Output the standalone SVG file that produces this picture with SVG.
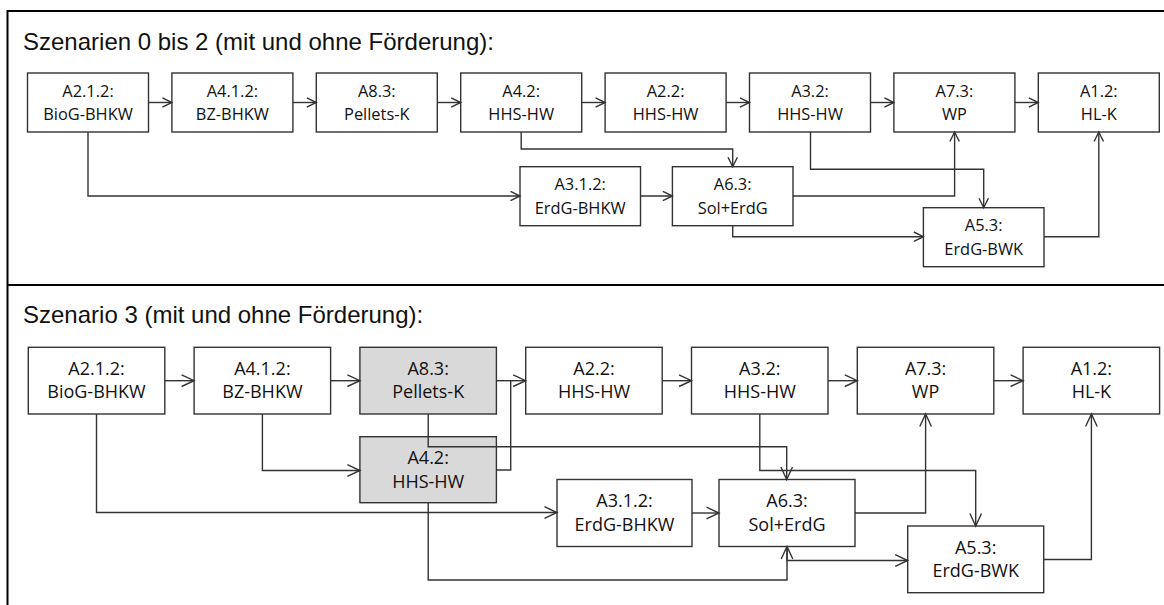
<svg xmlns="http://www.w3.org/2000/svg" width="1164" height="605" viewBox="0 0 1164 605">
  <style>
    .frame { stroke: #000; stroke-width: 2; fill: none; }
    .title { font-family: "Liberation Sans", Arial, sans-serif; font-size: 24px; fill: #111; }
    .box { fill: #fff; stroke: #333; stroke-width: 1.4; }
    .box.grey { fill: #d9d9d9; }
    .lbl { font-family: "Open Sans", "Noto Sans", sans-serif; fill: #111; text-anchor: middle; }
    .s1 .lbl { font-size: 16.4px; }
    .s2 .lbl { font-size: 18px; }
    .con { fill: none; stroke: #333; stroke-width: 1.4; }
    .s1 .con { marker-end: url(#ah1); }
    .s2 .con { marker-end: url(#ah2); }
    .s2 .con.join { marker-end: none; }
  </style>
  <defs>
    <marker id="ah1" markerUnits="userSpaceOnUse" viewBox="-11 -6 12 12" refX="0" refY="0" markerWidth="12" markerHeight="12" orient="auto" overflow="visible">
      <path d="M-9.5,-4.7 L0,0 L-9.5,4.7" fill="none" stroke="#333" stroke-width="1.4"/>
    </marker>
    <marker id="ah2" markerUnits="userSpaceOnUse" viewBox="-14 -7 15 14" refX="0" refY="0" markerWidth="15" markerHeight="14" orient="auto" overflow="visible">
      <path d="M-12.5,-5.8 L0,0 L-12.5,5.8" fill="none" stroke="#333" stroke-width="1.4"/>
    </marker>
  </defs>

  <rect width="1164" height="605" fill="#fff"/>

  <!-- outer frame and section divider -->
  <g id="frame">
    <path class="frame" d="M1164,11 H7.5 V605"/>
    <path class="frame" d="M7.5,285 H1164"/>
  </g>

  <!-- Section 1: scenarios 0 to 2 -->
  <g id="section1" class="s1">
    <text class="title" x="23" y="50">Szenarien 0 bis 2 (mit und ohne Förderung):</text>

    <g id="s1-A2.1.2"><rect class="box" x="27.5" y="73" width="121" height="59"/><text class="lbl" x="88" y="96.7">A2.1.2:</text><text class="lbl" x="88" y="120">BioG-BHKW</text></g>
    <g id="s1-A4.1.2"><rect class="box" x="171.9" y="73" width="121" height="59"/><text class="lbl" x="232.4" y="96.7">A4.1.2:</text><text class="lbl" x="232.4" y="120">BZ-BHKW</text></g>
    <g id="s1-A8.3"><rect class="box" x="316.3" y="73" width="121" height="59"/><text class="lbl" x="376.8" y="96.7">A8.3:</text><text class="lbl" x="376.8" y="120">Pellets-K</text></g>
    <g id="s1-A4.2"><rect class="box" x="460.7" y="73" width="121" height="59"/><text class="lbl" x="521.2" y="96.7">A4.2:</text><text class="lbl" x="521.2" y="120">HHS-HW</text></g>
    <g id="s1-A2.2"><rect class="box" x="605.1" y="73" width="121" height="59"/><text class="lbl" x="665.6" y="96.7">A2.2:</text><text class="lbl" x="665.6" y="120">HHS-HW</text></g>
    <g id="s1-A3.2"><rect class="box" x="749.5" y="73" width="121" height="59"/><text class="lbl" x="810" y="96.7">A3.2:</text><text class="lbl" x="810" y="120">HHS-HW</text></g>
    <g id="s1-A7.3"><rect class="box" x="893.9" y="73" width="121" height="59"/><text class="lbl" x="954.4" y="96.7">A7.3:</text><text class="lbl" x="954.4" y="120">WP</text></g>
    <g id="s1-A1.2"><rect class="box" x="1038.3" y="73" width="121" height="59"/><text class="lbl" x="1098.8" y="96.7">A1.2:</text><text class="lbl" x="1098.8" y="120">HL-K</text></g>
    <g id="s1-A3.1.2"><rect class="box" x="520" y="166.7" width="120.5" height="59"/><text class="lbl" x="580.2" y="190.4">A3.1.2:</text><text class="lbl" x="580.2" y="213.7">ErdG-BHKW</text></g>
    <g id="s1-A6.3"><rect class="box" x="672.4" y="166.7" width="120.6" height="59"/><text class="lbl" x="732.7" y="190.4">A6.3:</text><text class="lbl" x="732.7" y="213.7">Sol+ErdG</text></g>
    <g id="s1-A5.3"><rect class="box" x="923.4" y="207.7" width="120.6" height="59"/><text class="lbl" x="983.7" y="231.4">A5.3:</text><text class="lbl" x="983.7" y="254.7">ErdG-BWK</text></g>

    <g id="s1-connectors">
      <path class="con" d="M148.5,102.5 H171.9"/>
      <path class="con" d="M292.9,102.5 H316.3"/>
      <path class="con" d="M437.3,102.5 H460.7"/>
      <path class="con" d="M581.7,102.5 H605.1"/>
      <path class="con" d="M726.1,102.5 H749.5"/>
      <path class="con" d="M870.5,102.5 H893.9"/>
      <path class="con" d="M1014.9,102.5 H1038.3"/>
      <path class="con" d="M88,132 V196 H520"/>
      <path class="con" d="M521.2,132 V149 H732.7 V166.7"/>
      <path class="con" d="M640.5,196 H672.4"/>
      <path class="con" d="M793,196 H954.6 V132"/>
      <path class="con" d="M810.5,132 V169.3 H983.7 V207.7"/>
      <path class="con" d="M732.7,225.7 V236.7 H923.4"/>
      <path class="con" d="M1044,236.7 H1098.8 V132"/>
    </g>
  </g>

  <!-- Section 2: scenario 3 -->
  <g id="section2" class="s2">
    <text class="title" x="23" y="323.3">Szenario 3 (mit und ohne Förderung):</text>

    <g id="s2-A2.1.2"><rect class="box" x="28.3" y="347.3" width="136.5" height="66.7"/><text class="lbl" x="96.5" y="375">A2.1.2:</text><text class="lbl" x="96.5" y="398.3">BioG-BHKW</text></g>
    <g id="s2-A4.1.2"><rect class="box" x="194.1" y="347.3" width="136.5" height="66.7"/><text class="lbl" x="262.4" y="375">A4.1.2:</text><text class="lbl" x="262.4" y="398.3">BZ-BHKW</text></g>
    <g id="s2-A8.3"><rect class="box grey" x="359.9" y="347.3" width="136.5" height="66.7"/><text class="lbl" x="428.2" y="375">A8.3:</text><text class="lbl" x="428.2" y="398.3">Pellets-K</text></g>
    <g id="s2-A2.2"><rect class="box" x="525.7" y="347.3" width="136.5" height="66.7"/><text class="lbl" x="594" y="375">A2.2:</text><text class="lbl" x="594" y="398.3">HHS-HW</text></g>
    <g id="s2-A3.2"><rect class="box" x="691.5" y="347.3" width="136.5" height="66.7"/><text class="lbl" x="759.8" y="375">A3.2:</text><text class="lbl" x="759.8" y="398.3">HHS-HW</text></g>
    <g id="s2-A7.3"><rect class="box" x="857.3" y="347.3" width="136.5" height="66.7"/><text class="lbl" x="925.6" y="375">A7.3:</text><text class="lbl" x="925.6" y="398.3">WP</text></g>
    <g id="s2-A1.2"><rect class="box" x="1023.1" y="347.3" width="136.5" height="66.7"/><text class="lbl" x="1091.4" y="375">A1.2:</text><text class="lbl" x="1091.4" y="398.3">HL-K</text></g>
    <g id="s2-A4.2"><rect class="box grey" x="359.9" y="436.7" width="136.5" height="66"/><text class="lbl" x="428.2" y="464.3">A4.2:</text><text class="lbl" x="428.2" y="487.6">HHS-HW</text></g>
    <g id="s2-A3.1.2"><rect class="box" x="557" y="479.5" width="135" height="67"/><text class="lbl" x="624.5" y="507.2">A3.1.2:</text><text class="lbl" x="624.5" y="530.5">ErdG-BHKW</text></g>
    <g id="s2-A6.3"><rect class="box" x="719" y="479.5" width="136" height="67"/><text class="lbl" x="787" y="507.2">A6.3:</text><text class="lbl" x="787" y="530.5">Sol+ErdG</text></g>
    <g id="s2-A5.3"><rect class="box" x="907.7" y="526" width="136" height="66.7"/><text class="lbl" x="975.7" y="553.7">A5.3:</text><text class="lbl" x="975.7" y="577">ErdG-BWK</text></g>

    <g id="s2-connectors">
      <path class="con" d="M164.8,380.7 H194.1"/>
      <path class="con" d="M330.6,380.7 H359.9"/>
      <path class="con" d="M496.4,380.7 H525.7"/>
      <path class="con" d="M662.2,380.7 H691.5"/>
      <path class="con" d="M828,380.7 H857.3"/>
      <path class="con" d="M993.8,380.7 H1023.1"/>
      <path class="con" d="M96.5,414 V512.5 H557"/>
      <path class="con" d="M262.4,414 V470.5 H359.9"/>
      <path class="con join" d="M496.4,470 H510.7 V380.7"/>
      <path class="con" d="M428.2,414 V446.7 H786.7 V479.5"/>
      <path class="con" d="M759.8,414 V470.5 H975.7 V526"/>
      <path class="con" d="M692,513 H719"/>
      <path class="con" d="M855,513 H925.6 V414"/>
      <path class="con" d="M428.2,502.7 V580 H787 V546.5"/>
      <path class="con" d="M787,546.5 V560.5 H907.7"/>
      <path class="con" d="M1043.7,559.5 H1091.4 V414"/>
    </g>
  </g>
</svg>
